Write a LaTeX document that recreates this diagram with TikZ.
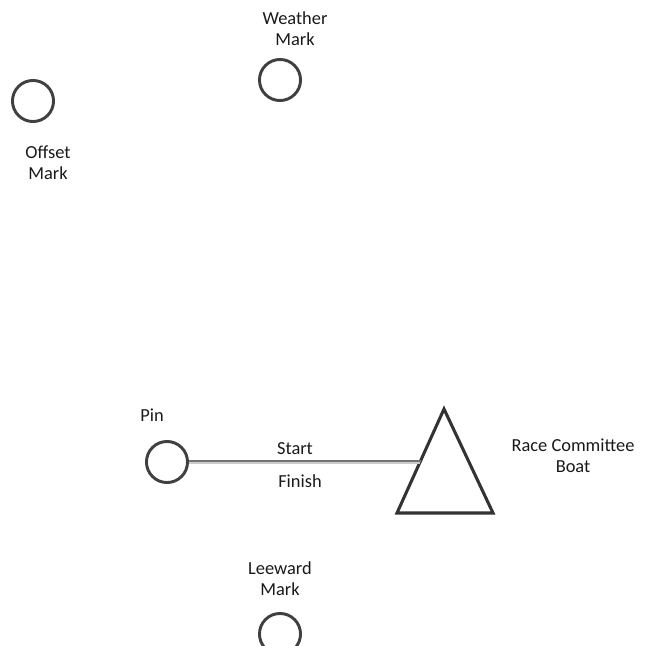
\documentclass[tikz,border=0pt]{standalone}
\usepackage{fontspec}
\setmainfont{Carlito}
\begin{document}
\begin{tikzpicture}[x=0.75pt,y=-0.75pt,
  buoy/.style={circle,draw=black!75,line width=2.2pt,minimum size=30.8pt,inner sep=0pt},
  lbl/.style={font=\fontsize{13.8}{16}\selectfont,text=black!90,align=center,inner sep=0pt},
  boat/.style={draw=black!80,line width=2.3pt,line join=miter}]
\useasboundingbox (0,0) rectangle (648,645);
\clip (0,0) rectangle (648,645);
% marks
\node[buoy] (weather) at (280,80) {};
\node[lbl] (weathert) at (295,29) {Weather\\Mark};
\node[buoy] (offset) at (33,101) {};
\node[lbl] (offsett) at (48,163) {Offset\\Mark};
\node[buoy] (pin) at (167,462) {};
\node[lbl] (pint) at (152,415) {Pin};
\node[buoy] (leeward) at (280,634) {};
\node[lbl] (leewardt) at (280,579) {Leeward\\Mark};
% committee boat
\coordinate (apex) at (444,409);
\coordinate (bl) at (397,513);
\coordinate (br) at (493,513);
\draw[boat] (apex) -- (bl) -- (br) -- cycle;
\coordinate (lineend) at (421,461);
\coordinate (lineend2) at (420,463);
\node[lbl] (boatt) at (573,456) {Race Committee\\Boat};
% start / finish line
\draw[black!55,line width=0.8pt] (pin.east |- lineend) -- (lineend);
\draw[black!20,line width=0.8pt] (pin.east |- lineend2) -- (lineend2);
\node[lbl] (start) at (295,449) {Start};
\node[lbl] (finish) at (300,481) {Finish};
\end{tikzpicture}
\end{document}
